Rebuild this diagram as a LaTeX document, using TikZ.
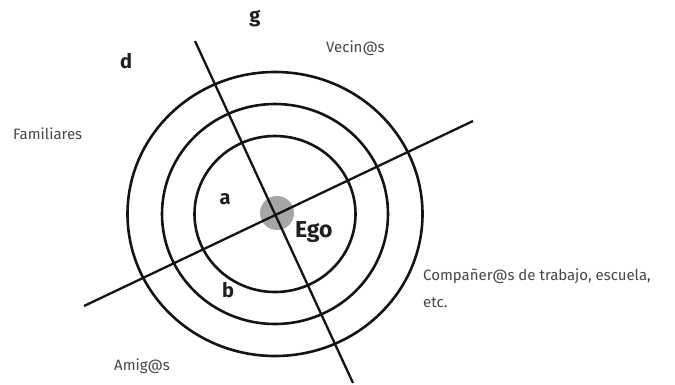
\documentclass[tikz,border=0pt]{standalone}
\usepackage{fontspec}
\setmainfont{Fira Sans}
\begin{document}
\begin{tikzpicture}[x=1pt,y=-1pt,
  ring/.style={draw=black!92,line width=2.6pt},
  axisline/.style={draw=black!92,line width=2.3pt},
  lbl/.style={text=black!72,font=\fontsize{15}{26}\selectfont,inner sep=0pt,anchor=base west},
  bold/.style={text=black!88,font=\fontsize{20}{24}\selectfont\bfseries,inner sep=0pt},
  ]
\useasboundingbox (0,0) rectangle (675,384);
\coordinate (c) at (275,214);
\fill[black!35] (277,213) circle[radius=17];
\draw[ring] (c) ellipse[x radius=147.5,y radius=142];
\draw[ring] (c) ellipse[x radius=113,y radius=110];
\draw[ring] (c) ellipse[x radius=80.5,y radius=78];
\coordinate (g1) at (195,41);
\coordinate (g2) at (353,383);
\coordinate (d1) at (84,306);
\coordinate (d2) at (473,121);
\draw[axisline] (g1) -- (g2);
\draw[axisline] (d1) -- (d2);
\node[bold] (g) at (255,19) {g};
\node[bold] (d) at (126,61) {d};
\node[bold] (a) at (225,199) {a};
\node[bold] (b) at (228,290) {b};
\node[bold,anchor=base west,font=\fontsize{23}{26}\selectfont\bfseries] (ego) at (295,237) {Ego};
\node[lbl] (vec) at (326,52) {Vecin@s};
\node[lbl] (fam) at (13,139) {Familiares};
\node[lbl] (ami) at (114,370) {Amig@s};
\node[lbl] (com) at (423,280) {Compañer@s de trabajo, escuela,};
\node[lbl] (etc) at (423,307) {etc.};
\end{tikzpicture}
\end{document}
